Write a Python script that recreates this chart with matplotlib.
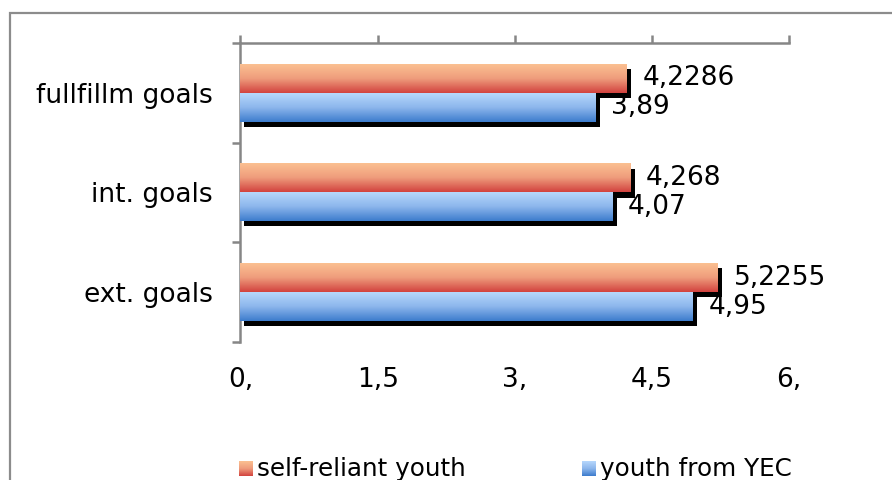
import numpy as np
import matplotlib
matplotlib.use("Agg")
import matplotlib.pyplot as plt
from matplotlib.colors import LinearSegmentedColormap
from matplotlib.patches import Rectangle
from matplotlib.transforms import offset_copy

# --- data ---
categories = ["ext. goals", "int. goals", "fullfillm goals"]
self_reliant = [5.2255, 4.268, 4.2286]
yec = [4.95, 4.07, 3.89]
series_names = ["self-reliant youth", "youth from YEC"]
x_ticks = [0, 1.5, 3, 4.5, 6]
x_tick_labels = ["0,", "1,5", "3,", "4,5", "6,"]

red_cmap = LinearSegmentedColormap.from_list("red", ["#fbc091", "#ef9c7c", "#d2433f"])
blue_cmap = LinearSegmentedColormap.from_list("blue", ["#b6d7fc", "#8cb6ec", "#3d7ccd"])
grad = np.linspace(0, 1, 64).reshape(-1, 1)

def fmt(v):
    return ("%g" % v).replace(".", ",")

fig = plt.figure(figsize=(8.92, 4.8), dpi=100)
ax = fig.add_axes([240.5 / 892, 1 - 342 / 480, (789 - 240.5) / 892, (342 - 43) / 480])

y = np.arange(len(categories))
h = 0.29
shadow = offset_copy(ax.transData, fig=fig, x=4, y=-5, units="dots")

for vals, off, cmap in [(self_reliant, h / 2, red_cmap), (yec, -h / 2, blue_cmap)]:
    ax.barh(y + off, vals, height=h, color="black", transform=shadow, zorder=2)
    for yi, v in zip(y + off, vals):
        ax.imshow(grad, extent=(0, v, yi - h / 2, yi + h / 2), aspect="auto",
                  cmap=cmap, zorder=3, interpolation="bilinear")
        ax.annotate(fmt(v), xy=(v, yi), xytext=(11, 0), textcoords="offset points",
                    va="center", ha="left", fontsize=19, color="black", zorder=4)

ax.set_xlim(0, 6)
ax.set_ylim(-0.5, 2.5)

# spines: only top and left, gray
for s in ["bottom", "right"]:
    ax.spines[s].set_visible(False)
for s in ["top", "left"]:
    ax.spines[s].set_color("#868686")
    ax.spines[s].set_linewidth(1.8)

ax.set_xticks(x_ticks)
ax.set_xticklabels(x_tick_labels, fontsize=19)
ax.tick_params(axis="x", bottom=False, top=True, labelbottom=True, labeltop=False,
               length=6, width=1.8, color="#868686", pad=12)

ax.set_yticks(np.arange(-0.5, len(categories), 1.0))
ax.set_yticklabels([])
ax.tick_params(axis="y", which="major", length=6, width=1.8, color="#868686")
ax.set_yticks(y, minor=True)
ax.set_yticklabels(categories, minor=True, fontsize=19)
ax.tick_params(axis="y", which="minor", length=0, pad=20)

# outer chart border (runs off the right and bottom)
fig.add_artist(Rectangle((10 / 892, -0.1), 1.2, 1 - 13 / 480 + 0.1,
                         transform=fig.transFigure, fill=False,
                         edgecolor="#8c8c8c", lw=1.6))

# legend with gradient squares
legend_items = [(series_names[0], red_cmap, 239), (series_names[1], blue_cmap, 582)]
for name, cmap, px in legend_items:
    sq = fig.add_axes([px / 892, 1 - 476 / 480, 14 / 892, 15 / 480])
    sq.imshow(grad, aspect="auto", cmap=cmap, interpolation="bilinear")
    sq.set_axis_off()
    fig.text((px + 18) / 892, 1 - 469 / 480, name, fontsize=17.7,
             va="center", ha="left", color="black")

fig.savefig("out.png", dpi=100)
